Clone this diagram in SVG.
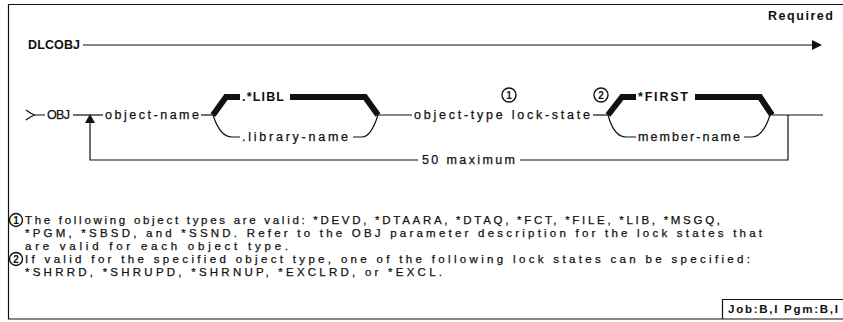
<svg xmlns="http://www.w3.org/2000/svg" width="843" height="322" viewBox="0 0 843 322">
<style>
text{font-family:"Liberation Sans",Arial,sans-serif;font-size:11.5px;fill:#111;stroke:#111;stroke-width:0.25}
.d{font-size:12.5px}
.b{font-weight:bold;stroke-width:0}
.t{fill:none;stroke:#111;stroke-width:1.2}
.k{fill:none;stroke:#111;stroke-width:6;stroke-linejoin:miter}
.c{fill:none;stroke:#111;stroke-width:1.4}
.n{font-size:10px;font-weight:bold;text-anchor:middle;stroke-width:0}
</style>
<rect width="843" height="322" fill="#fff"/>
<g id="frame">
<path class="t" d="M8.5,4 V319 M8,4.5 H843 M8,319 H843" stroke-width="1.6"/>
<text class="b d" x="833" y="20" text-anchor="end" textLength="65" lengthAdjust="spacing">Required</text>
</g>
<g id="connectors">
<path class="t" d="M83,45 H814"/>
<polygon points="812,40 822,45 812,50" fill="#111"/>
<path class="t" d="M26,110 Q31,114 35,115 Q31,116 26,120 M35,115 H45"/>
<path class="t" d="M73,115 H103"/>
<polygon points="85,123 90,114 95,123" fill="#111"/>
<path class="t" d="M90,123 V160 H418 M520,160 H788 V115"/>
<path class="t" d="M201,115 H213"/>
<path class="k" d="M213,115 L226,97 L240,97"/>
<path class="t" d="M213,115 Q220,137 232,137 H240"/>
<path class="k" d="M290,97 H365 L378,115"/>
<path class="t" d="M353,137 H362 Q371,137 378,115"/>
<path class="t" d="M378,115 H412"/>
<path class="t" d="M593,115 H608"/>
<path class="k" d="M608,115 L622,97 L636,97"/>
<path class="t" d="M608,115 Q614,137 626,137 H636"/>
<path class="k" d="M695,97 H760 L772,115"/>
<path class="t" d="M744,137 H752 Q763,137 770,115"/>
<path class="t" d="M772,115 H823"/>
</g>
<g id="dlcobj"><text class="b d" x="28" y="49" textLength="52" lengthAdjust="spacing">DLCOBJ</text></g>
<g id="obj"><text class="d" x="47" y="119" textLength="23" lengthAdjust="spacing">OBJ</text></g>
<g id="object-name"><text class="d" x="105" y="119" textLength="94" lengthAdjust="spacing">object-name</text></g>
<g id="libl"><text class="b d" x="242" y="101" textLength="42" lengthAdjust="spacing">.*LIBL</text></g>
<g id="library-name"><text class="d" x="242" y="141" textLength="106" lengthAdjust="spacing">.library-name</text></g>
<g id="object-type"><text class="d" x="414" y="119" textLength="176" lengthAdjust="spacing">object-type lock-state</text></g>
<g id="note1"><circle class="c" cx="509" cy="95" r="7"/><text class="n" x="509" y="99">1</text></g>
<g id="note2"><circle class="c" cx="601" cy="95" r="7"/><text class="n" x="601" y="99">2</text></g>
<g id="first"><text class="b d" x="638" y="101" textLength="50" lengthAdjust="spacing">*FIRST</text></g>
<g id="member-name"><text class="d" x="638" y="141" textLength="102" lengthAdjust="spacing">member-name</text></g>
<g id="maximum"><text class="d" x="422" y="164" textLength="93" lengthAdjust="spacing">50 maximum</text></g>
<g id="footnotes">
<circle class="c" cx="16" cy="220" r="6.5"/><text class="n" x="16" y="224">1</text>
<text x="25" y="224" textLength="695" lengthAdjust="spacing">The following object types are valid:  *DEVD, *DTAARA, *DTAQ, *FCT, *FILE, *LIB, *MSGQ,</text>
<text x="25" y="237" textLength="737" lengthAdjust="spacing">*PGM, *SBSD, and *SSND.  Refer to the OBJ parameter description for the lock states that</text>
<text x="25" y="250" textLength="263" lengthAdjust="spacing">are valid for each object type.</text>
<circle class="c" cx="16" cy="259" r="6.5"/><text class="n" x="16" y="263">2</text>
<text x="25" y="263" textLength="725" lengthAdjust="spacing">If valid for the specified object type, one of the following lock states can be specified:</text>
<text x="25" y="276" textLength="417" lengthAdjust="spacing">*SHRRD, *SHRUPD, *SHRNUP, *EXCLRD, or *EXCL.</text>
</g>
<g id="job">
<path class="t" d="M722.5,319 V299.5 H843" stroke-width="1.6"/>
<text class="b" x="728" y="313" textLength="110" lengthAdjust="spacing">Job:B,I Pgm:B,I</text>
</g>
</svg>
